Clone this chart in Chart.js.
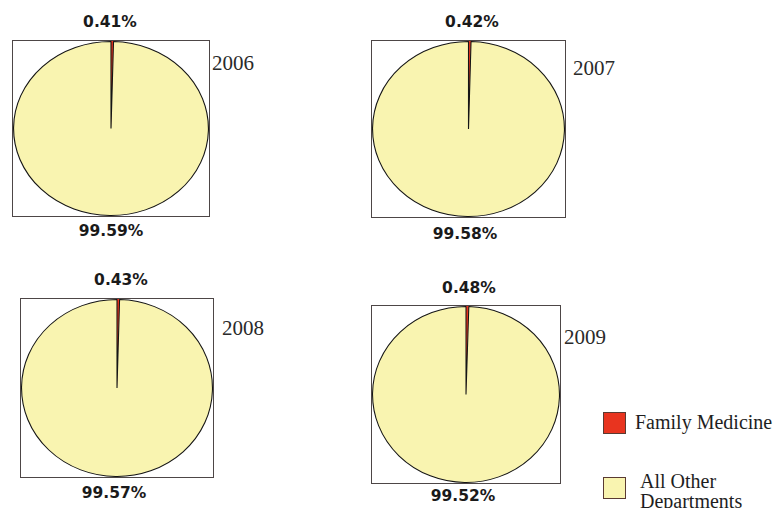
<!DOCTYPE html>
<html>
<head>
<meta charset="utf-8">
<script src="https://cdn.jsdelivr.net/npm/chart.js@4.4.1/dist/chart.umd.min.js"></script>
<style>
  html, body { margin: 0; padding: 0; background: #ffffff; }
  #page { position: relative; width: 773px; height: 508px; overflow: hidden; }
  .box { position: absolute; border: 1px solid #4d4646; box-sizing: border-box; }
  .box canvas { display: block; }
  .pct { position: absolute; font-family: "DejaVu Sans", Verdana, sans-serif; font-weight: bold;
         font-size: 15.5px; line-height: 18px; color: #1a1a1a; transform: translateX(-50%); white-space: nowrap; }
  .year { position: absolute; font-family: "Liberation Serif", "DejaVu Serif", serif; font-size: 21px;
          line-height: 24px; color: #2a2a2a; white-space: nowrap; }
  .lg-swatch { position: absolute; width: 23px; height: 22px; box-sizing: border-box; border: 1px solid #5a3a32; }
  .lg-text { position: absolute; font-family: "Liberation Serif", "DejaVu Serif", serif; font-size: 20px;
             line-height: 20px; color: #1e1e1e; width: 140px; }
</style>
</head>
<body>
<div id="page"></div>
<script>
// Share of the total held by each group, per year (percent)
const years = ['2006', '2007', '2008', '2009'];
const categories = ['Family Medicine', 'All Other Departments'];
const familyMedicine = [0.41, 0.42, 0.43, 0.48];
const allOtherDepartments = [99.59, 99.58, 99.57, 99.52];

const sliceColors = ['#e8341f', '#f9f4b0'];
// The small slice keeps its own colour as outline so it stays visible
const sliceBorders = ['#e8341f', '#151515'];

// Placement of each pie panel and its labels on the page
const panels = [
  { box: [12, 40, 198, 177],  top: [110, 13],  bottom: [111, 222], year: [212, 51] },
  { box: [371, 40, 195, 178], top: [472, 13],  bottom: [465, 225], year: [573, 56] },
  { box: [20, 298, 194, 180], top: [121, 271], bottom: [114, 484], year: [222, 316] },
  { box: [371, 305, 190, 179],top: [469, 279], bottom: [463, 487], year: [564, 325] }
];
const legendLayout = [
  { swatch: [603, 412], text: [635, 412] },
  { swatch: [603, 477], text: [640, 471] }
];

// Stretch the round pie horizontally so it fills its rectangular frame
const stretchToFrame = {
  id: 'stretchToFrame',
  beforeDatasetsDraw(chart) {
    const { ctx, chartArea: a } = chart;
    const cx = (a.left + a.right) / 2, cy = (a.top + a.bottom) / 2;
    ctx.save();
    ctx.translate(cx, cy);
    ctx.scale(a.width / a.height, 1);
    ctx.translate(-cx, -cy);
  },
  afterDatasetsDraw(chart) {
    chart.ctx.restore();
  }
};

const page = document.getElementById('page');

function addText(cls, x, y, text) {
  const d = document.createElement('div');
  d.className = cls;
  d.style.left = x + 'px';
  d.style.top = y + 'px';
  d.textContent = text;
  page.appendChild(d);
  return d;
}

years.forEach((year, i) => {
  const p = panels[i];
  const [x, y, w, h] = p.box;
  const box = document.createElement('div');
  box.className = 'box';
  box.style.left = x + 'px';
  box.style.top = y + 'px';
  box.style.width = w + 'px';
  box.style.height = h + 'px';
  const canvas = document.createElement('canvas');
  canvas.width = w - 2;
  canvas.height = h - 2;
  box.appendChild(canvas);
  page.appendChild(box);

  const values = [familyMedicine[i], allOtherDepartments[i]];

  new Chart(canvas, {
    type: 'pie',
    data: {
      labels: categories,
      datasets: [{
        data: values,
        backgroundColor: sliceColors,
        borderColor: sliceBorders,
        borderWidth: 1
      }]
    },
    options: {
      responsive: false,
      animation: false,
      layout: { padding: 0 },
      plugins: { legend: { display: false }, tooltip: { enabled: false } }
    },
    plugins: [stretchToFrame]
  });

  addText('pct', p.top[0], p.top[1], values[0].toFixed(2) + '%');
  addText('pct', p.bottom[0], p.bottom[1], values[1].toFixed(2) + '%');
  addText('year', p.year[0], p.year[1], year);
});

// Legend for both categories
categories.forEach((name, i) => {
  const L = legendLayout[i];
  const s = document.createElement('div');
  s.className = 'lg-swatch';
  s.style.left = L.swatch[0] + 'px';
  s.style.top = L.swatch[1] + 'px';
  s.style.background = sliceColors[i];
  page.appendChild(s);
  addText('lg-text', L.text[0], L.text[1], name);
});
</script>
</body>
</html>
